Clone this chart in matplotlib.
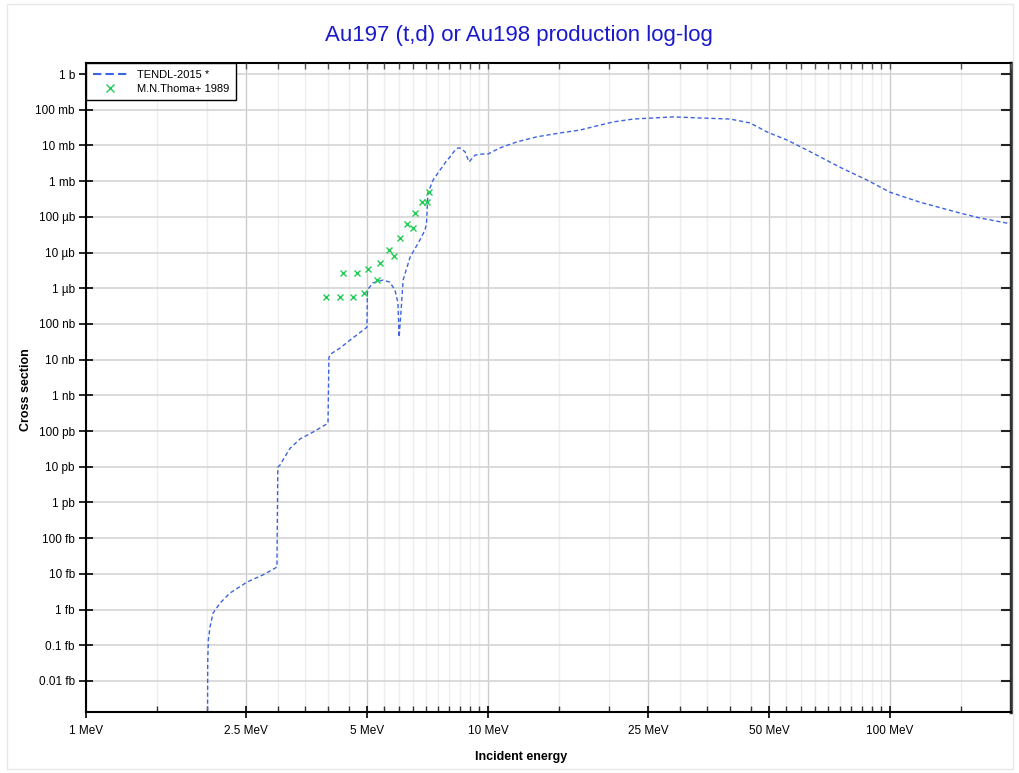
import numpy as np
import matplotlib
matplotlib.use('Agg')
import matplotlib.pyplot as plt
from matplotlib.ticker import FixedLocator, NullFormatter
from matplotlib.patches import Rectangle

plt.rcParams['font.family'] = ['Liberation Sans', 'DejaVu Sans']

# TENDL-2015 curve, energy in MeV, cross section in barn
tendl_e = [2.005, 2.008, 2.015, 2.035, 2.07, 2.155, 2.28, 2.515, 2.755, 2.985, 3.0,
           3.04, 3.09, 3.22, 3.41, 3.67, 4.0, 4.02, 4.05, 4.28, 4.54, 5.0, 5.01,
           5.05, 5.17, 5.48, 5.70, 5.87, 5.97, 6.01, 6.08, 6.15, 6.40, 6.77, 6.97,
           7.03, 7.09, 7.30, 7.51, 7.91, 8.05, 8.28, 8.42, 8.52, 8.66, 8.77, 8.97,
           9.29, 9.66, 10.0, 10.7, 11.8, 13.2, 15.1, 16.9, 19.0, 20.5, 23.0, 25.7,
           28.9, 33.7, 40.0, 44.9, 49.4, 55.5, 62.2, 75.1, 87.7, 100.0, 118.8,
           149.0, 167.0, 201.0]
tendl_log = [-19.0, -16.5, -15.85, -15.49, -15.10, -14.82, -14.54, -14.23, -14.03, -13.81, -11.01,
             -10.95, -10.81, -10.48, -10.22, -10.03, -9.78, -7.95, -7.85, -7.68, -7.45, -7.09, -6.13,
             -6.0, -5.85, -5.77, -5.83, -6.05, -6.41, -7.37, -6.61, -5.77, -5.13, -4.65, -4.37,
             -4.2, -3.33, -2.97, -2.77, -2.41, -2.32, -2.13, -2.07, -2.07, -2.13, -2.18, -2.46,
             -2.27, -2.24, -2.24, -2.07, -1.90, -1.76, -1.65, -1.57, -1.43, -1.34, -1.26, -1.23,
             -1.20, -1.23, -1.26, -1.37, -1.62, -1.85, -2.13, -2.61, -2.97, -3.31, -3.59,
             -3.89, -4.03, -4.20]
tendl_xs = [10 ** v for v in tendl_log]

# M.N.Thoma+ 1989 measurements
exp_e = [3.95, 4.28, 4.62, 4.91, 4.36, 4.72, 5.03, 5.39, 5.29, 5.67, 5.84, 6.04,
         6.29, 6.51, 6.58, 6.85, 7.05, 7.13]
exp_log = [-6.25, -6.25, -6.25, -6.13, -5.57, -5.57, -5.46, -5.29, -5.77, -4.93, -5.10, -4.59,
           -4.20, -4.31, -3.89, -3.59, -3.59, -3.31]
exp_xs = [10 ** v for v in exp_log]

x_major = [1, 2.5, 5, 10, 25, 50, 100]
x_labels = ['1 MeV', '2.5 MeV', '5 MeV', '10 MeV', '25 MeV', '50 MeV', '100 MeV']
y_major = [10.0 ** k for k in range(0, -18, -1)]
y_labels = ['1 b', '100 mb', '10 mb', '1 mb', '100 \u00b5b', '10 \u00b5b', '1 \u00b5b',
            '100 nb', '10 nb', '1 nb', '100 pb', '10 pb', '1 pb', '100 fb', '10 fb',
            '1 fb', '0.1 fb', '0.01 fb']

x_minor = list(np.arange(1.5, 10, 0.5)) + list(np.arange(15, 100, 5)) + [150, 200]
x_minor = [v for v in x_minor if v not in x_major]

xlim = (1, 200)
ylim = (10 ** -17.87, 10 ** 0.31)

fig = plt.figure(figsize=(10.2, 7.73), dpi=100)
ax = fig.add_axes([86 / 1020, 1 - 712 / 773, 925 / 1020, 649 / 773])

ax.set_xscale('log')
ax.set_yscale('log')
ax.set_xlim(*xlim)
ax.set_ylim(*ylim)

ax.xaxis.set_major_locator(FixedLocator(x_major))
ax.xaxis.set_minor_locator(FixedLocator(x_minor))
ax.set_xticks(x_major)
ax.set_xticklabels(x_labels)
ax.xaxis.set_minor_formatter(NullFormatter())
ax.yaxis.set_major_locator(FixedLocator(y_major))
ax.yaxis.set_minor_locator(FixedLocator([]))
ax.set_yticks(y_major)
ax.set_yticklabels(y_labels)

ax.grid(which='major', axis='x', color='#cccccc', lw=1.0)
ax.grid(which='minor', axis='x', color='#eeeeee', lw=1.0)
ax.grid(which='major', axis='y', color='#d4d4d4', lw=1.2)
ax.set_axisbelow(True)

ax.tick_params(axis='both', which='major', labelsize=8.5, color='black', width=1.2)
ax.tick_params(axis='x', which='major', direction='inout', length=8, pad=5)
ax.tick_params(axis='x', which='minor', direction='in', length=4, width=1, color='#333333')
ax.tick_params(axis='y', which='major', direction='inout', length=10, pad=3)

for s in ['left', 'bottom', 'top']:
    ax.spines[s].set_color('black')
    ax.spines[s].set_linewidth(1.5)
ax.spines['right'].set_color('#333333')
ax.spines['right'].set_linewidth(2.5)

# inward ticks on right and top
axr = ax.twinx()
axr.set_yscale('log')
axr.set_ylim(*ylim)
axr.yaxis.set_major_locator(FixedLocator(y_major))
axr.yaxis.set_minor_locator(FixedLocator([]))
axr.tick_params(axis='y', direction='in', length=7, width=1.5, color='#222222', labelright=False)
axt = ax.twiny()
axt.set_xscale('log')
axt.set_xlim(*xlim)
axt.xaxis.set_major_locator(FixedLocator(x_major))
axt.xaxis.set_minor_locator(FixedLocator(x_minor))
axt.tick_params(axis='x', which='both', direction='in', length=4, width=1, color='#555555',
                labeltop=False)
for a in (axr, axt):
    for s in a.spines.values():
        s.set_visible(False)

l1, = ax.plot(tendl_e, tendl_xs, color='#3c64e0', lw=1.0, ls=(0, (3, 2)), label='TENDL-2015 *')
l2, = ax.plot(exp_e, exp_xs, ls='none', marker='x', ms=4, mew=1.0, color='#22cc55',
              label='M.N.Thoma+ 1989')

# legend on the top-most axes so the tick marks stay under it
leg = axt.legend([l1, l2], [l1.get_label(), l2.get_label()], loc='upper left', fontsize=8,
                 frameon=True, fancybox=False, framealpha=1, borderaxespad=0,
                 handlelength=3.2, borderpad=0.6, labelspacing=0.35, markerscale=1.6)
leg.get_frame().set_edgecolor('black')
leg.get_frame().set_linewidth(1.0)
leg.legend_handles[0].set_linewidth(1.5)
leg.legend_handles[0].set_linestyle((0, (4, 2)))

fig.text(519 / 1020, 1 - 35 / 773, 'Au197 (t,d) or Au198 production log-log',
         ha='center', va='center', fontsize=16, color='#1a1acc')
fig.text(26 / 1020, 1 - 390 / 773, 'Cross section', rotation=90, ha='center', va='center',
         fontsize=9, fontweight='bold')
fig.text(521 / 1020, 1 - 757 / 773, 'Incident energy', ha='center', va='center',
         fontsize=9, fontweight='bold')

fig.patches.append(Rectangle((7 / 1020, 1 - 769 / 773), 1006 / 1020, 765 / 773,
                             transform=fig.transFigure, fill=False, ec='#e8e8e8', lw=1))

fig.savefig('out.png', dpi=100)
